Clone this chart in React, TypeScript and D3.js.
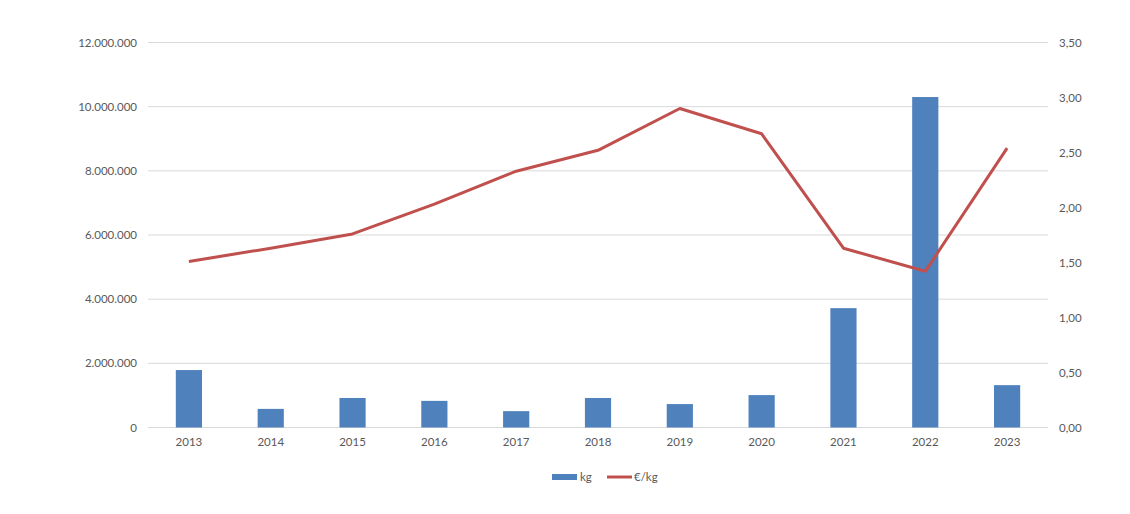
import React from "react";
import * as d3 from "d3";

const years = ["2013","2014","2015","2016","2017","2018","2019","2020","2021","2022","2023"];
const kg = [1790000, 580000, 920000, 830000, 510000, 920000, 730000, 1010000, 3720000, 10300000, 1320000];
const eurPerKg = [1.51, 1.63, 1.76, 2.03, 2.33, 2.52, 2.9, 2.67, 1.63, 1.42, 2.54];
const leftTicks = [0, 2000000, 4000000, 6000000, 8000000, 10000000, 12000000];
const rightTicks = [0, 0.5, 1, 1.5, 2, 2.5, 3, 3.5];

const W = 1130, H = 514;
const L = 148, R = 1048, T = 42.5, B = 427.5;
const font = "Lato, 'Open Sans', sans-serif";
const txt = "#595959";

export default function App() {
  const x = d3.scaleBand<string>().domain(years).range([L, R]).paddingInner(0.68).paddingOuter(0.34);
  const xc = (y: string) => (x(y) as number) + x.bandwidth() / 2;
  const yL = d3.scaleLinear().domain([0, 12000000]).range([B, T]);
  const yR = d3.scaleLinear().domain([0, 3.5]).range([B, T]);
  const fmtL = (v: number) => d3.format(",")(v).replace(/,/g, ".");
  const fmtR = (v: number) => v.toFixed(2).replace(".", ",");
  const line = d3.line<number>().x((_, i) => xc(years[i])).y(d => yR(d));
  return (
    <svg width={W} height={H} style={{ position: "absolute", left: 0, top: 0, background: "#fff" }}>
      {leftTicks.map(t => (
        <line key={"g" + t} x1={L} x2={R} y1={yL(t)} y2={yL(t)} stroke="#d9d9d9" strokeWidth={1} />
      ))}
      {leftTicks.map(t => (
        <text key={"l" + t} x={137} y={yL(t)} dy="0.35em" textAnchor="end" fontFamily={font} fontSize={11.5} fill={txt}>{fmtL(t)}</text>
      ))}
      {rightTicks.map(t => (
        <text key={"r" + t} x={1059} y={yR(t)} dy="0.35em" textAnchor="start" fontFamily={font} fontSize={11.5} fill={txt}>{fmtR(t)}</text>
      ))}
      {years.map((y, i) => (
        <rect key={"b" + y} x={x(y)} y={yL(kg[i])} width={x.bandwidth()} height={B - yL(kg[i])} fill="#4f81bd" />
      ))}
      <path d={line(eurPerKg) || ""} fill="none" stroke="#c0504d" strokeWidth={3} strokeLinejoin="round" />
      {years.map(y => (
        <text key={"x" + y} x={xc(y)} y={446} textAnchor="middle" fontFamily={font} fontSize={11.5} fill={txt}>{y}</text>
      ))}
      <rect x={552} y={474} width={25} height={6} fill="#4f81bd" />
      <text x={580} y={481} fontFamily={font} fontSize={11.5} fill={txt}>kg</text>
      <line x1={607} x2={632} y1={477} y2={477} stroke="#c0504d" strokeWidth={3} />
      <text x={634} y={481} fontFamily={font} fontSize={11.5} fill={txt}>€/kg</text>
    </svg>
  );
}
